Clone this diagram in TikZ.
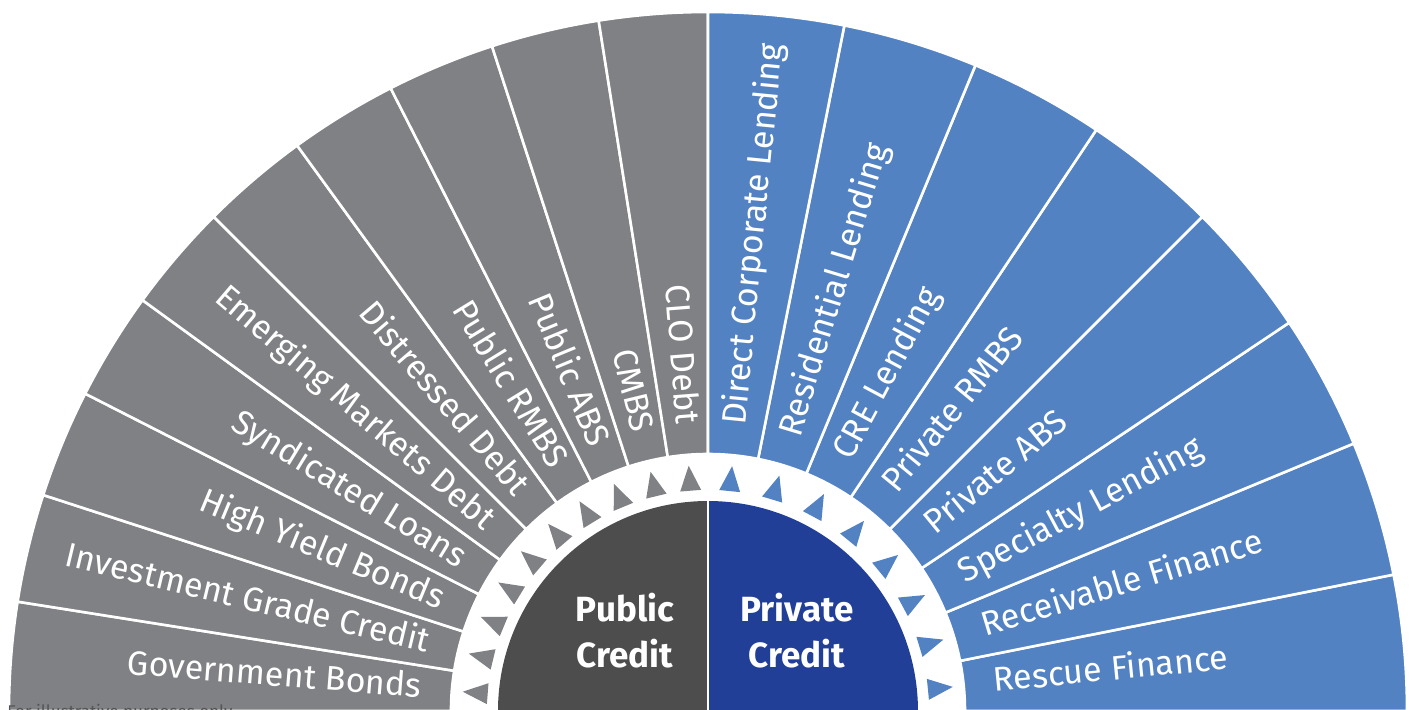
\documentclass[tikz,border=0pt]{standalone}
\usepackage{fontspec}
\setmainfont{Fira Sans}
\definecolor{pubgray}{HTML}{808184}
\definecolor{privblue}{HTML}{5382C3}
\definecolor{pubdark}{HTML}{4D4D4D}
\definecolor{privdark}{HTML}{223F98}
\definecolor{notegray}{HTML}{555555}
\begin{document}
\begin{tikzpicture}[x=0.5pt,y=0.5pt,
    sector/.style={draw=white,line width=1.3pt},
    seglabel/.style={text=white,font=\fontsize{17}{20}\selectfont,
      inner sep=0pt,text height=9pt,text depth=0pt},
    hublabel/.style={text=white,font=\fontsize{17.5}{23}\selectfont\bfseries,
      align=center,inner sep=0pt}]
  \useasboundingbox (-708,2) rectangle (707,711);
  % public side, bottom to top
  \foreach \lbl [count=\i from 0] in {Government Bonds,Investment Grade Credit,
      High Yield Bonds,Syndicated Loans,Emerging Markets Debt,Distressed Debt,
      Public RMBS,Public ABS,CMBS,CLO Debt} {
    \pgfmathsetmacro\aa{180-9*\i}
    \pgfmathsetmacro\ab{171-9*\i}
    \pgfmathsetmacro\am{175.5-9*\i}
    \filldraw[sector,fill=pubgray] (\aa:257) arc[start angle=\aa,end angle=\ab,radius=257]
      -- (\ab:699) arc[start angle=\ab,end angle=\aa,radius=699] -- cycle;
    \fill[pubgray,rotate=\am] (221,-10.5) -- (246,0) -- (221,10.5) -- cycle;
    \node[seglabel,anchor=east,rotate=\am-180] (pub-\i) at (\am:287) {\lbl};
  }
  % private side, bottom to top
  \foreach \lbl [count=\i from 0] in {Rescue Finance,Receivable Finance,
      Specialty Lending,Private ABS,Private RMBS,CRE Lending,
      Residential Lending,Direct Corporate Lending} {
    \pgfmathsetmacro\aa{11.25*\i}
    \pgfmathsetmacro\ab{11.25*(\i+1)}
    \pgfmathsetmacro\am{11.25*\i+5.625}
    \filldraw[sector,fill=privblue] (\aa:257) arc[start angle=\aa,end angle=\ab,radius=257]
      -- (\ab:699) arc[start angle=\ab,end angle=\aa,radius=699] -- cycle;
    \fill[privblue,rotate=\am] (221,-10.5) -- (246,0) -- (221,10.5) -- cycle;
    \node[seglabel,anchor=west,rotate=\am] (priv-\i) at (\am:287) {\lbl};
  }
  % hub
  \fill[pubdark] (0,0) -- (-210,0) arc[start angle=180,end angle=90,radius=210] -- cycle;
  \fill[privdark] (0,0) -- (0,210) arc[start angle=90,end angle=0,radius=210] -- cycle;
  \draw[white,line width=1pt] (0,0) -- (0,212);
  \node[hublabel] (public) at (-83,80) {Public\\Credit};
  \node[hublabel] (private) at (89,80) {Private\\Credit};
  \node[anchor=north west,inner sep=0pt,text=notegray,font=\fontsize{8.5}{10}\selectfont]
    (note) at (-701,7) {For illustrative purposes only.};
\end{tikzpicture}
\end{document}
